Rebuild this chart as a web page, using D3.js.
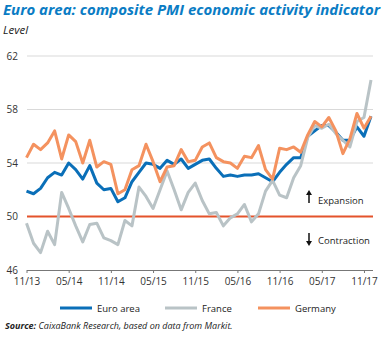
<!DOCTYPE html>
<html>
<head>
<meta charset="utf-8">
<script src="https://cdn.jsdelivr.net/npm/d3@7"></script>
<style>
  body { margin: 0; background: #fff; }
  text { font-family: "Open Sans", "Noto Sans", sans-serif; }
</style>
</head>
<body>
<div id="chart"></div>
<script>
// Monthly composite PMI, Oct 2013 - Nov 2017
var euroArea = [51.9, 51.7, 52.1, 52.9, 53.3, 53.1, 54.0, 53.5, 52.8, 53.8,
                52.5, 52.0, 52.1, 51.1, 51.4, 52.6, 53.3, 54.0, 53.9, 53.6,
                54.2, 53.9, 54.3, 53.6, 53.9, 54.2, 54.3, 53.6, 53.0, 53.1,
                53.0, 53.1, 53.1, 53.2, 52.9, 52.6, 53.3, 53.9, 54.4, 54.4,
                56.0, 56.4, 56.8, 56.8, 56.3, 55.7, 55.7, 56.7, 56.0, 57.5];
var france = [49.5, 48.0, 47.3, 48.9, 47.9, 51.8, 50.6, 49.3, 48.1, 49.4,
              49.5, 48.4, 48.2, 47.9, 49.7, 49.3, 52.2, 51.5, 50.6, 52.0,
              53.4, 52.0, 50.5, 51.8, 52.5, 51.2, 50.2, 50.3, 49.3, 49.9,
              50.2, 50.9, 49.6, 50.2, 51.9, 52.7, 51.6, 51.4, 52.9, 53.8,
              55.9, 56.8, 56.6, 56.9, 56.2, 55.7, 55.2, 57.1, 57.4, 60.2];
var germany = [54.4, 55.4, 55.0, 55.5, 56.4, 54.3, 56.1, 55.6, 54.0, 55.7,
               53.7, 54.1, 53.9, 51.7, 52.0, 53.5, 53.8, 55.4, 54.1, 52.6,
               53.7, 53.8, 55.0, 54.1, 54.2, 55.2, 55.5, 54.4, 54.1, 54.0,
               53.6, 54.5, 54.4, 55.3, 53.5, 52.8, 55.1, 55.0, 55.2, 54.8,
               56.1, 57.1, 56.7, 57.4, 56.4, 54.7, 55.8, 57.7, 56.6, 57.5];

var xTickIndex = [0, 6, 12, 18, 24, 30, 36, 42, 48];
var xTickLabels = ["11/13", "05/14", "11/14", "05/15", "11/15", "05/16", "11/16", "05/17", "11/17"];
var yTicks = [46, 50, 54, 58, 62];
var threshold = 50;

var series = [
  { name: "Euro area", values: euroArea, color: "#0a6fb8" },
  { name: "France", values: france, color: "#b9c3c6" },
  { name: "Germany", values: germany, color: "#f4925f" }
];

var svg = d3.select("#chart").append("svg")
    .attr("width", 388)
    .attr("height", 338);

// Scales
var x = d3.scaleLinear().domain([0, 49]).range([26.5, 371]);
var y = d3.scaleLinear().domain([46, 62]).range([270, 56]);

// Title
var title = svg.append("text")
    .attr("x", 3)
    .attr("y", 15)
    .style("font-size", "14px")
    .style("font-weight", "bold")
    .style("font-style", "italic")
    .style("fill", "#0a7cc4")
    .text("Euro area: composite PMI economic activity indicator");
title.attr("textLength", 377).attr("lengthAdjust", "spacingAndGlyphs");

svg.append("text")
    .attr("x", 3)
    .attr("y", 34)
    .style("font-size", "11.5px")
    .style("font-style", "italic")
    .style("fill", "#222")
    .text("Level");

// Gridlines
svg.append("g")
    .selectAll("line")
    .data(yTicks.filter(d => d > 46))
    .enter().append("line")
    .attr("x1", 27)
    .attr("x2", 373)
    .attr("y1", d => y(d))
    .attr("y2", d => y(d))
    .style("stroke", "#d9d9d9")
    .style("stroke-width", 1);

// Y axis labels
var yAxis = svg.append("g")
    .attr("transform", "translate(27,0)")
    .call(d3.axisLeft(y).tickValues(yTicks).tickSize(0).tickPadding(9));
yAxis.select(".domain").remove();
yAxis.selectAll("text")
    .style("font-size", "10px")
    .style("fill", "#333")
    .style("font-family", "Open Sans, sans-serif");

// X axis
var xAxis = svg.append("g")
    .attr("transform", "translate(0,270)")
    .call(d3.axisBottom(x)
        .tickValues(xTickIndex)
        .tickFormat((d, i) => xTickLabels[i])
        .tickSize(3)
        .tickSizeOuter(0)
        .tickPadding(5));
xAxis.select(".domain").attr("d", "M27,0.5H373").style("stroke", "#777");
xAxis.selectAll(".tick line").style("stroke", "#777");
xAxis.selectAll("text")
    .style("font-size", "10px")
    .style("fill", "#333")
    .style("font-family", "Open Sans, sans-serif");

// 50 threshold line
svg.append("line")
    .attr("x1", 27)
    .attr("x2", 373)
    .attr("y1", y(threshold))
    .attr("y2", y(threshold))
    .style("stroke", "#e4532b")
    .style("stroke-width", 2);

// Lines
var line = d3.line()
    .x((d, i) => x(i))
    .y(d => y(d));

svg.selectAll(".series")
    .data(series)
    .enter().append("path")
    .attr("class", "series")
    .attr("d", d => line(d.values))
    .style("fill", "none")
    .style("stroke", d => d.color)
    .style("stroke-width", 3)
    .style("stroke-linejoin", "round");

// Expansion / contraction notes
var notes = [
  { label: "Expansion", ty: 204, dir: -1, ay: 197 },
  { label: "Contraction", ty: 244, dir: 1, ay: 239 }
];
var note = svg.selectAll(".note")
    .data(notes)
    .enter().append("g")
    .attr("class", "note");
note.append("line")
    .attr("x1", 309).attr("x2", 309)
    .attr("y1", d => d.ay - d.dir * 6)
    .attr("y2", d => d.ay + d.dir * 3)
    .style("stroke", "#111")
    .style("stroke-width", 1.5);
note.append("path")
    .attr("d", d => "M306," + (d.ay + d.dir * 2) + "L312," + (d.ay + d.dir * 2) + "L309," + (d.ay + d.dir * 7) + "Z")
    .style("fill", "#111");
note.append("text")
    .attr("x", 318)
    .attr("y", d => d.ty)
    .style("font-size", "9.5px")
    .style("fill", "#222")
    .text(d => d.label);

// Legend
var legendX = [60, 165, 258];
var legend = svg.selectAll(".legend")
    .data(series)
    .enter().append("g")
    .attr("class", "legend")
    .attr("transform", (d, i) => "translate(" + legendX[i] + ",308)");
legend.append("line")
    .attr("x1", 0).attr("x2", 32)
    .style("stroke", d => d.color)
    .style("stroke-width", 3);
legend.append("text")
    .attr("x", 37)
    .attr("y", 3.5)
    .style("font-size", "9.5px")
    .style("fill", "#222")
    .text(d => d.name);

// Source
var source = svg.append("text")
    .attr("x", 5)
    .attr("y", 329)
    .style("font-size", "9px")
    .style("font-style", "italic")
    .style("fill", "#222");
source.append("tspan").style("font-weight", "bold").text("Source: ");
source.append("tspan").text("CaixaBank Research, based on data from Markit.");
</script>
</body>
</html>
